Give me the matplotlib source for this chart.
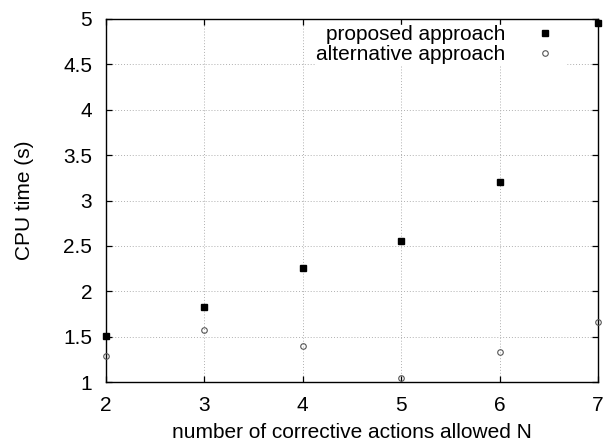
import matplotlib
matplotlib.use("Agg")
import matplotlib.pyplot as plt

# data
n_actions = [2, 3, 4, 5, 6, 7]
proposed = [1.51, 1.83, 2.26, 2.55, 3.20, 4.96]
alternative = [1.29, 1.57, 1.40, 1.04, 1.33, 1.66]
y_ticks = [1, 1.5, 2, 2.5, 3, 3.5, 4, 4.5, 5]
y_ticklabels = ['1', '1.5', '2', '2.5', '3', '3.5', '4', '4.5', '5']

plt.rcParams['font.family'] = ['Liberation Sans', 'DejaVu Sans']

fig = plt.figure(figsize=(6.07, 4.43), dpi=100)
ax = fig.add_axes([106/607, 1 - 382/443, (598 - 106)/607, (382 - 19)/443])

ax.plot(n_actions, proposed, ls='none', marker='s', ms=4.3, color='black',
        label='proposed approach', clip_on=False, zorder=3)
ax.plot(n_actions, alternative, ls='none', marker='o', ms=4.0, mfc='none',
        mec='#555555', mew=0.8, label='alternative approach', clip_on=False, zorder=3)

ax.set_xlim(2, 7)
ax.set_ylim(1, 5)
ax.set_xticks(n_actions)
ax.set_yticks(y_ticks)
ax.set_yticklabels(y_ticklabels)
ax.grid(True, ls=(0, (1, 2)), color='#b0b0b0', lw=0.7)
ax.tick_params(direction='in', top=True, right=True, length=4.3, width=0.9,
               labelsize=15, pad=10)
for s in ax.spines.values():
    s.set_linewidth(1.0)

ax.set_xlabel('number of corrective actions allowed N', fontsize=15, labelpad=6)
ax.set_ylabel('CPU time (s)', fontsize=15, labelpad=21)

# key sits in the top right, text right aligned, symbols after the text
# anchored a little below the top border so the top ticks stay visible
top = 1 - 6 / 363
leg = ax.legend(loc='upper right', bbox_to_anchor=(0.935, top), frameon=True,
                fontsize=15, markerfirst=False, borderaxespad=0, borderpad=0.0,
                handletextpad=0.9, labelspacing=0.05, fancybox=False)
leg.get_frame().set_edgecolor('white')
leg.get_frame().set_alpha(1)
for t in leg.get_texts():
    t.set_ha('right')
leg._legend_box.align = 'right'

fig.savefig('out.png', dpi=100)
